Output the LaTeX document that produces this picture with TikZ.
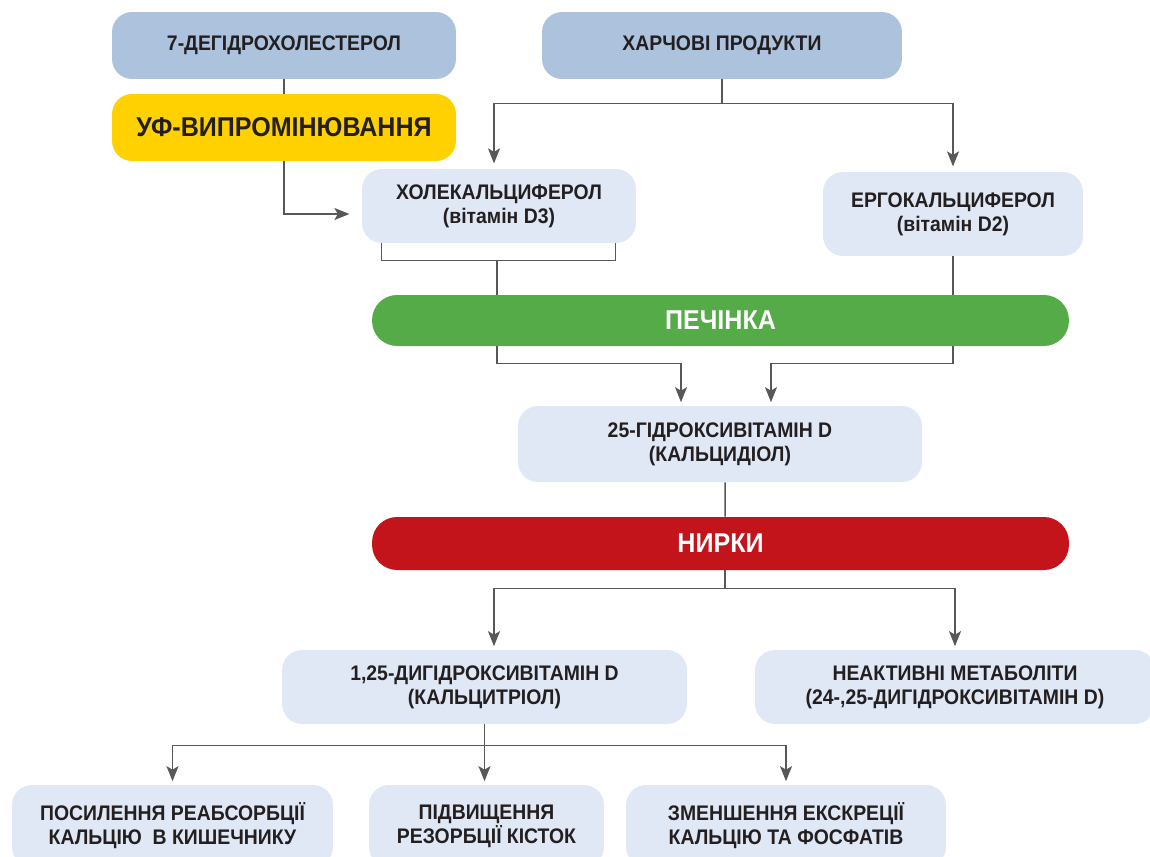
\documentclass[tikz,border=0pt]{standalone}
\usepackage{fontspec}
\setmainfont{Liberation Sans}[FakeStretch=0.92]
\usetikzlibrary{arrows.meta,calc}
\definecolor{VitSource}{HTML}{ADC2DC}
\definecolor{VitPale}{HTML}{E0E8F6}
\definecolor{VitSun}{HTML}{FFD100}
\definecolor{VitLiver}{HTML}{55AB48}
\definecolor{VitKidney}{HTML}{C3141C}
\definecolor{VitInk}{HTML}{231F20}
\definecolor{VitLine}{HTML}{585858}

\begin{document}
\begin{tikzpicture}[x=0.02cm,y=-0.02cm,
    card/.style={
      rounded corners=0.4cm,
      align=center,
      inner sep=0pt,
      text=VitInk,
      font=\bfseries\fontsize{12}{13.6}\selectfont
    },
    organ/.style={
      rounded corners=0.5cm,
      minimum width=13.94cm,
      align=center,
      inner sep=0pt,
      text=white,
      font=\bfseries\fontsize{15.5}{18}\selectfont
    },
    link/.style={
      line width=0.85pt,
      draw=VitLine
    },
    arrow/.style={
      link,
      -{Stealth[length=3mm,width=2.4mm,inset=0.7mm]},
      shorten >=2pt
    }]

    \useasboundingbox (0,0) rectangle (1150,856);

    % Sources
    \node[card,fill=VitSource,minimum width=6.88cm,minimum height=1.34cm] (dhc) at (284,45.5) {7-ДЕГІДРОХОЛЕСТЕРОЛ};
    \node[card,fill=VitSun,minimum width=6.88cm,minimum height=1.34cm,
          font=\bfseries\fontsize{15.5}{18}\selectfont] (uv) at (284,127.5) {УФ-ВИПРОМІНЮВАННЯ};
    \node[card,fill=VitSource,minimum width=7.2cm,minimum height=1.34cm] (food) at (722,45.5) {ХАРЧОВІ ПРОДУКТИ};

    % Vitamin forms
    \node[card,fill=VitPale,minimum width=5.48cm,minimum height=1.48cm] (d3) at (499,206) {ХОЛЕКАЛЬЦИФЕРОЛ\\(вітамін D3)};
    \node[card,fill=VitPale,minimum width=5.2cm,minimum height=1.68cm] (d2) at (953,214) {ЕРГОКАЛЬЦИФЕРОЛ\\(вітамін D2)};

    % Liver
    \node[organ,fill=VitLiver,minimum height=1.02cm] (liver) at (720.5,320.5) {ПЕЧІНКА};
    \node[card,fill=VitPale,minimum width=8.08cm,minimum height=1.52cm] (calcidiol) at (720,444) {25-ГІДРОКСИВІТАМІН D\\(КАЛЬЦИДІОЛ)};

    % Kidneys
    \node[organ,fill=VitKidney,minimum height=1.06cm] (kidney) at (720.5,543.5) {НИРКИ};
    \node[card,fill=VitPale,minimum width=8.1cm,minimum height=1.48cm] (calcitriol) at (484.5,687) {1,25-ДИГІДРОКСИВІТАМІН D\\(КАЛЬЦИТРІОЛ)};
    \node[card,fill=VitPale,minimum width=8cm,minimum height=1.48cm] (inactive) at (955,687) {НЕАКТИВНІ МЕТАБОЛІТИ\\(24-,25-ДИГІДРОКСИВІТАМІН D)};

    % Effects
    \node[card,fill=VitPale,minimum width=6.42cm,minimum height=1.64cm] (eff1) at (172.5,826) {ПОСИЛЕННЯ РЕАБСОРБЦІЇ\\КАЛЬЦІЮ~~В КИШЕЧНИКУ};
    \node[card,fill=VitPale,minimum width=4.7cm,minimum height=1.64cm] (eff2) at (486.5,826) {ПІДВИЩЕННЯ\\РЕЗОРБЦІЇ КІСТОК};
    \node[card,fill=VitPale,minimum width=6.4cm,minimum height=1.64cm] (eff3) at (786,826) {ЗМЕНШЕННЯ ЕКСКРЕЦІЇ\\КАЛЬЦІЮ ТА ФОСФАТІВ};

    % Skin synthesis and diet
    \draw[link] (dhc.south) -- (uv.north);
    \draw[arrow,shorten >=7pt] (uv.south) |- ($(d3.west)+(0,8)$);
    \draw[arrow,shorten >=3pt] (food.south) -- ++(0,24) -| ($(d3.north)+(-5,0)$);
    \draw[arrow,shorten >=3pt] (food.south) -- ++(0,24) -| (d2.north);

    % Into the liver
    \coordinate (d3fork) at ($(d3.south)+(-2,17)$);
    \draw[link] ($(d3.south west)+(20,0)$) -- ++(0,17) -| ($(d3.south east)+(-21,0)$);
    \draw[link] (d3fork) -- (d3fork |- liver.north);
    \draw[link] (d2.south) -- (d2.south |- liver.north);
    \draw[arrow] (d3fork |- liver.south) -- ++(0,17) -| ($(calcidiol.north)+(-39,0)$);
    \draw[arrow] (d2.south |- liver.south) -- ++(0,17) -| ($(calcidiol.north)+(51,0)$);

    % Into the kidneys
    \draw[link] ($(calcidiol.south)+(5,0)$) -- ($(kidney.north)+(4.5,0)$);
    \draw[arrow] ($(kidney.south)+(4.5,0)$) -- ++(0,18) -| ($(calcitriol.north)+(9.5,0)$);
    \draw[arrow] ($(kidney.south)+(4.5,0)$) -- ++(0,18) -| (inactive.north);

    % Effects of calcitriol
    \draw[arrow] (calcitriol.south) -- ++(0,21) -| (eff1.north);
    \draw[arrow] (calcitriol.south) -- (calcitriol.south |- eff2.north);
    \draw[arrow] (calcitriol.south) -- ++(0,21) -| (eff3.north);
  \end{tikzpicture}
\end{document}
